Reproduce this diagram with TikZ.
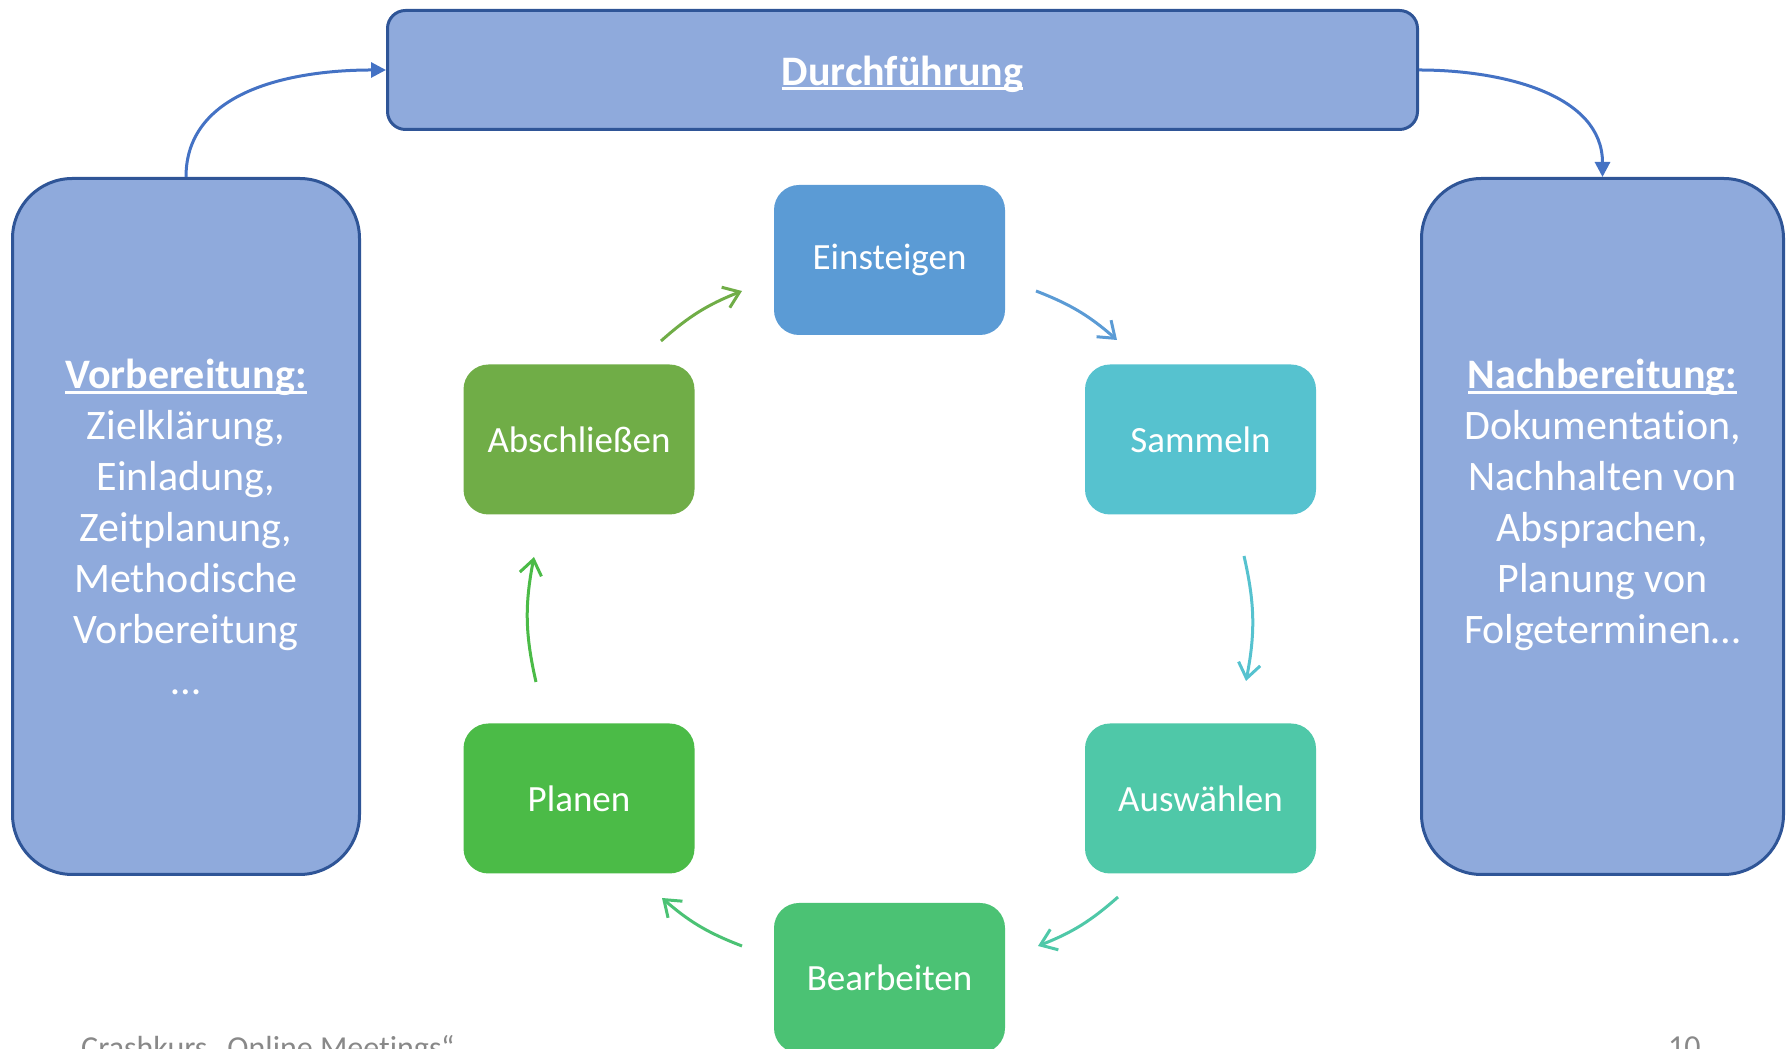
\documentclass[tikz,border=0pt]{standalone}
\usepackage{fontspec}
\setmainfont{Carlito}[Ligatures=NoCommon]
\usetikzlibrary{arrows.meta}
\definecolor{bigfill}{HTML}{8FAADC}
\definecolor{bigdraw}{HTML}{2F5597}
\definecolor{linkblue}{HTML}{4472C4}
\definecolor{cEin}{HTML}{5B9BD5}
\definecolor{cSam}{HTML}{56C2CF}
\definecolor{cAus}{HTML}{4FC8A8}
\definecolor{cBea}{HTML}{4BC274}
\definecolor{cPla}{HTML}{4BBB47}
\definecolor{cAbs}{HTML}{70AD47}
\definecolor{footgray}{HTML}{898989}
\newcommand\myul[1]{\setbox0\hbox{#1}\mbox{\rlap{\rule[-0.12em]{\wd0}{0.065em}}\box0}}
\begin{document}
\begin{tikzpicture}[x=1pt,y=1pt,
 bigbox/.style={draw=bigdraw, line width=3pt, fill=bigfill, rounded corners=60pt, inner sep=0pt},
 stepbox/.style={rounded corners=25pt, minimum width=231pt, minimum height=150pt, inner sep=0pt, text=white, font=\fontsize{37}{44}\selectfont},
 cyc/.style={line width=3pt, -{Straight Barb[length=15pt,width=22pt]}, bend left=#1},
 cyc/.default=10,
 link/.style={draw=linkblue, line width=3pt, -{Triangle[length=15pt,width=15pt]}},
 bigtext/.style={text=white, align=center, font=\fontsize{42}{51}\selectfont, inner sep=0pt, anchor=north},
 foot/.style={text=footgray, font=\fontsize{32}{38}\selectfont, inner sep=0pt, anchor=base west},
]
\useasboundingbox (0,0) rectangle (1791,1049);

% big boxes
\node[bigbox, rounded corners=18pt, minimum width=1030pt, minimum height=119pt] (dur) at (902.5,979) {};
\node[text=white, font=\bfseries\fontsize{42}{51}\selectfont] (durtext) at (902.5,975) {\myul{Durchführung}};
\node[bigbox, minimum width=347pt, minimum height=696pt] (vor) at (186,522.5) {};
\node[bigbox, minimum width=362pt, minimum height=696pt] (nach) at (1602.5,522.5) {};

\node[bigtext] (vortext) at (186,690) {\textbf{\myul{Vorbereitung:}}\\Zielklärung,\\Einladung,\\Zeitplanung,\\Methodische\\Vorbereitung\\…};
\node[bigtext] (nachtext) at (1602.5,690) {\textbf{\myul{Nachbereitung:}}\\Dokumentation,\\Nachhalten von\\Absprachen,\\Planung von\\Folgeterminen…};

\draw[link] (vor.north) to[out=90,in=180] (dur.west);
\draw[link] (dur.east) to[out=0,in=90] (nach.north);

% cycle nodes
\node[stepbox, fill=cEin] (ein) at (889.5,789) {Einsteigen};
\node[stepbox, fill=cSam] (sam) at (1200.5,609.5) {Sammeln};
\node[stepbox, fill=cAus] (aus) at (1200.5,250.5) {Auswählen};
\node[stepbox, fill=cBea] (bea) at (889.5,71) {Bearbeiten};
\node[stepbox, fill=cPla] (pla) at (579,250.5) {Planen};
\node[stepbox, fill=cAbs] (abs) at (579,609.5) {Abschließen};

% arrow end points
\coordinate (a1s) at (661,708); \coordinate (a1e) at (742,758);
\coordinate (a2s) at (1036,758); \coordinate (a2e) at (1117,709);
\coordinate (a3s) at (1244,493); \coordinate (a3e) at (1246,368);
\coordinate (a4s) at (1118,152); \coordinate (a4e) at (1038,103);
\coordinate (a5s) at (742,103); \coordinate (a5e) at (662,151);
\coordinate (a6s) at (536,367); \coordinate (a6e) at (534,492);

\draw[cyc, draw=cAbs] (a1s) to (a1e);
\draw[cyc, draw=cEin] (a2s) to (a2e);
\draw[cyc=12, draw=cSam] (a3s) to (a3e);
\draw[cyc, draw=cAus] (a4s) to (a4e);
\draw[cyc, draw=cBea] (a5s) to (a5e);
\draw[cyc=12, draw=cPla] (a6s) to (a6e);

% footer (cut by page edge, as in the reference)
\node[foot] (foottext) at (81,-10) {Crashkurs „Online Meetings“};
\node[foot] (pagenum) at (1668,-9) {10};
\end{tikzpicture}
\end{document}
